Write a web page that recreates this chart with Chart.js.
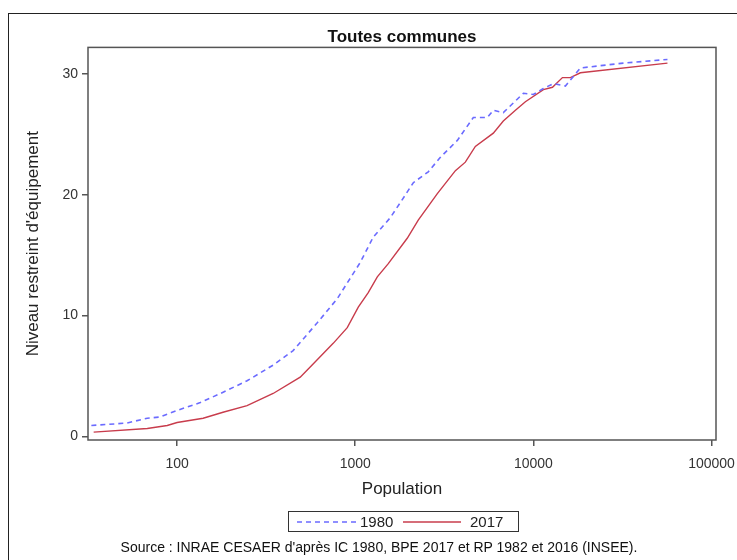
<!DOCTYPE html>
<html>
<head>
<meta charset="utf-8">
<script src="https://cdn.jsdelivr.net/npm/chart.js@4/dist/chart.umd.min.js"></script>
<style>
  body { margin: 0; background: #fff; overflow: hidden; font-family: "Liberation Sans", Arial, sans-serif; }
  #frame { position: absolute; left: 8px; top: 13px; width: 800px; height: 600px; border: 1px solid #222; }
  #wrap { position: absolute; left: 0; top: 0; width: 737px; height: 560px; }
  #legend { position: absolute; left: 288px; top: 511px; width: 229px; height: 19px; border: 1px solid #333;
            font-size: 15px; color: #222; }
  #legend span { position: absolute; top: 1px; }
  #legend svg { position: absolute; top: 0; }
  #source { position: absolute; left: 0; width: 758px; top: 539px; text-align: center; font-size: 14px; color: #111; }
</style>
</head>
<body>
<div id="frame"></div>
<div id="wrap"><canvas id="chart" width="737" height="560"></canvas></div>
<div id="legend">
  <svg width="70" height="19" style="left:6px"><line x1="2" y1="10" x2="62" y2="10" stroke="#6b6bff" stroke-width="1.5" stroke-dasharray="5,4"/></svg>
  <span style="left:71px">1980</span>
  <svg width="70" height="19" style="left:112px"><line x1="2" y1="10" x2="60" y2="10" stroke="#c83c4c" stroke-width="1.5"/></svg>
  <span style="left:181px">2017</span>
</div>
<div id="source">Source : INRAE CESAER d'après IC 1980, BPE 2017 et RP 1982 et 2016 (INSEE).</div>
<script>
// données
const pop1980 = [33, 52, 68, 80, 100, 135, 175, 247, 346, 448, 612, 793, 1067, 1262, 1573, 1837, 2118, 2570, 3006, 3743, 4603, 5518, 5960, 6780, 8790, 10000, 11380, 12950, 15130, 18370, 32050, 56600];
const niv1980 = [0.9, 1.1, 1.5, 1.6, 2.15, 2.8, 3.55, 4.6, 5.9, 7.1, 9.4, 11.4, 14.4, 16.5, 18.1, 19.6, 21.0, 21.9, 23.1, 24.5, 26.4, 26.4, 27.0, 26.8, 28.4, 28.3, 28.8, 29.2, 29.0, 30.5, 30.9, 31.2];

const pop2017 = [34, 68, 88, 100, 140, 181, 247, 346, 491, 580, 752, 902, 1040, 1183, 1330, 1533, 1958, 2258, 2890, 3650, 4150, 4723, 5960, 6780, 7930, 9020, 11380, 12800, 14560, 16140, 18370, 56600];
const niv2017 = [0.35, 0.65, 0.9, 1.15, 1.5, 2.0, 2.55, 3.55, 4.9, 6.0, 7.7, 9.0, 10.7, 11.9, 13.2, 14.3, 16.4, 17.9, 20.1, 22.0, 22.7, 24.0, 25.1, 26.1, 27.0, 27.7, 28.7, 28.9, 29.7, 29.7, 30.1, 30.9];

const xTicks = [100, 1000, 10000, 100000];
const yTicks = [0, 10, 20, 30];

const toPoints = (xs, ys) => xs.map((x, i) => ({ x: x, y: ys[i] }));

const txt = '#333';
const fontFam = '"Liberation Sans", Arial, sans-serif';

// cadre autour de la zone du graphique
const boxPlugin = {
    id: 'box',
    afterDraw(chart) {
        const a = chart.chartArea;
        const ctx = chart.ctx;
        ctx.save();
        ctx.strokeStyle = '#555';
        ctx.lineWidth = 1.5;
        ctx.strokeRect(a.left, a.top, a.right - a.left, a.bottom - a.top);
        ctx.restore();
    }
};

new Chart(document.getElementById('chart'), {
    type: 'line',
    data: {
        datasets: [
            {
                label: '1980',
                data: toPoints(pop1980, niv1980),
                borderColor: '#6b6bff',
                borderWidth: 1.6,
                borderDash: [5, 4],
                pointRadius: 0,
                tension: 0,
                fill: false
            },
            {
                label: '2017',
                data: toPoints(pop2017, niv2017),
                borderColor: '#c83c4c',
                borderWidth: 1.4,
                pointRadius: 0,
                tension: 0,
                fill: false
            }
        ]
    },
    options: {
        responsive: false,
        animation: false,
        layout: { padding: { left: 0, right: 21, top: 0, bottom: 58 } },
        plugins: {
            legend: { display: false },
            tooltip: { enabled: false },
            title: {
                display: true,
                fullSize: false, // centré sur la zone du graphique
                text: 'Toutes communes',
                color: '#111',
                font: { family: fontFam, size: 17, weight: 'bold' },
                padding: { top: 27, bottom: 0 }
            }
        },
        scales: {
            x: {
                type: 'logarithmic',
                min: 31.6,
                max: 106000,
                afterBuildTicks: (axis) => { axis.ticks = xTicks.map(v => ({ value: v })); },
                afterFit: (axis) => { axis.height = 62; axis.paddingLeft = 0; axis.paddingRight = 0; },
                ticks: {
                    color: txt,
                    font: { family: fontFam, size: 14 },
                    padding: 10,
                    maxRotation: 0,
                    callback: (v) => String(v)
                },
                grid: { display: true, drawOnChartArea: false, drawTicks: true, tickLength: 6, color: '#555', lineWidth: 1.5 },
                border: { display: false },
                title: {
                    display: true,
                    text: 'Population',
                    color: '#222',
                    font: { family: fontFam, size: 17 },
                    padding: { top: 0, bottom: 2 }
                }
            },
            y: {
                min: -0.3,
                max: 32.2,
                afterBuildTicks: (axis) => { axis.ticks = yTicks.map(v => ({ value: v })); },
                afterFit: (axis) => { axis.width = 88; axis.paddingTop = 0; axis.paddingBottom = 0; },
                ticks: {
                    color: txt,
                    font: { family: fontFam, size: 14 },
                    padding: 4
                },
                grid: { display: true, drawOnChartArea: false, drawTicks: true, tickLength: 6, color: '#555', lineWidth: 1.5 },
                border: { display: false },
                title: {
                    display: true,
                    text: "Niveau restreint d'équipement",
                    color: '#222',
                    font: { family: fontFam, size: 17 },
                    padding: { top: 23, bottom: 0 }
                }
            }
        }
    },
    plugins: [boxPlugin]
});
</script>
</body>
</html>
